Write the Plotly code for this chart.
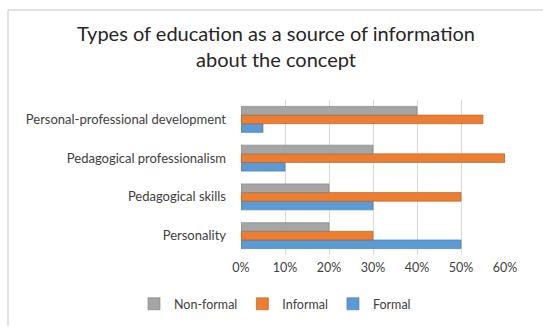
import plotly.graph_objects as go

categories = ["Personality", "Pedagogical skills", "Pedagogical professionalism", "Personal-professional development"]
formal = [0.50, 0.30, 0.10, 0.05]
informal = [0.30, 0.50, 0.60, 0.55]
non_formal = [0.20, 0.20, 0.30, 0.40]
tick_vals = [0, 0.1, 0.2, 0.3, 0.4, 0.5, 0.6]
tick_text = ["0%", "10%", "20%", "30%", "40%", "50%", "60%"]

W, H = 543, 327
L, R, T, B = 241, 38, 99.5, 71.5
pw, ph = W - L - R, H - T - B

def px(x):
    return (x - L) / pw

def py(y):
    return (H - B - y) / ph

fig = go.Figure()
fig.add_trace(go.Bar(y=categories, x=formal, name="Formal", orientation="h",
                     marker=dict(color="#5B9BD5", line=dict(color="#41719C", width=0.6))))
fig.add_trace(go.Bar(y=categories, x=informal, name="Informal", orientation="h",
                     marker=dict(color="#ED7D31", line=dict(color="#AE5A21", width=0.6))))
fig.add_trace(go.Bar(y=categories, x=non_formal, name="Non-formal", orientation="h",
                     marker=dict(color="#A5A5A5", line=dict(color="#787878", width=0.6))))

fig.update_layout(
    width=W, height=H,
    margin=dict(l=L, r=R, t=T, b=B, autoexpand=False),
    paper_bgcolor="white", plot_bgcolor="white",
    barmode="group", bargap=0.33, bargroupgap=0,
    font=dict(family="Lato", size=12.5, color="#404040"),
    title=dict(text="Types of education as a source of information<br>about the concept",
               x=276 / W, xanchor="center", y=1 - 41 / H, yanchor="middle",
               font=dict(family="Lato", size=20, color="#262626")),
    xaxis=dict(range=[0, 0.6], tickvals=tick_vals, ticktext=tick_text,
               showgrid=True, gridcolor="#D9D9D9", gridwidth=1, zeroline=False,
               showline=False, ticks="", ticklabelstandoff=3,
               tickfont=dict(size=12.5, color="#404040")),
    yaxis=dict(showgrid=False, zeroline=False, showline=False, ticks="",
               ticklabelstandoff=14, tickfont=dict(size=13, color="#404040")),
    legend=dict(orientation="h", traceorder="reversed", x=px(134), xanchor="left",
                y=py(305), yanchor="middle", font=dict(size=12.5, color="#404040"),
                itemwidth=30, bgcolor="rgba(0,0,0,0)"),
    showlegend=True,
)

fig.add_shape(type="line", xref="paper", yref="paper", x0=px(8), x1=px(543), y0=py(9), y1=py(9),
              line=dict(color="#D9D9D9", width=1.5))
fig.add_shape(type="line", xref="paper", yref="paper", x0=px(8), x1=px(8), y0=py(9), y1=py(327),
              line=dict(color="#D9D9D9", width=1.5))

fig.write_html("out.html")
